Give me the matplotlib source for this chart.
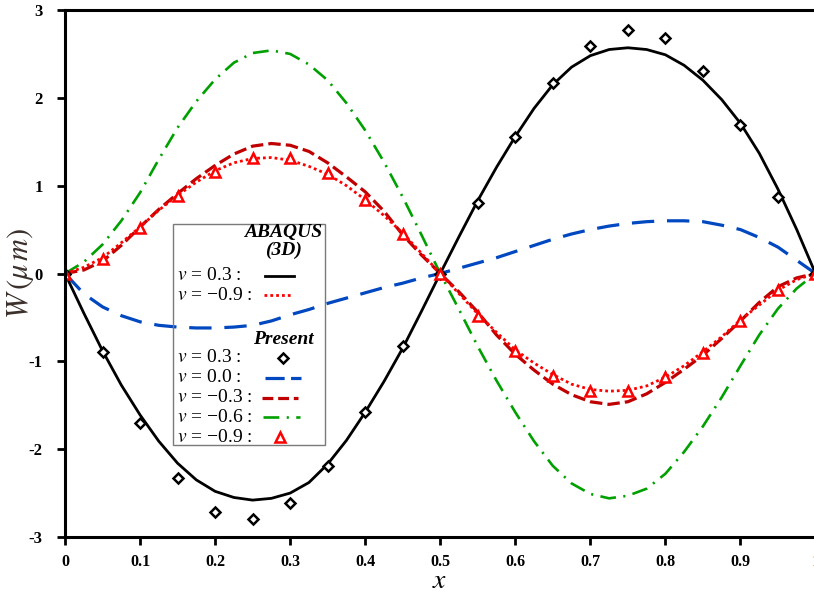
import matplotlib
matplotlib.use("Agg")
import matplotlib.pyplot as plt
from matplotlib.patches import Rectangle

plt.rcParams['font.family'] = ['Liberation Serif', 'DejaVu Serif']
plt.rcParams['mathtext.fontset'] = 'stix'

# abscissa of the line curves
x_line = [0.0, 0.025, 0.05, 0.075, 0.1, 0.125, 0.15, 0.175, 0.2, 0.225,
          0.25, 0.275, 0.3, 0.325, 0.35, 0.375, 0.4, 0.425, 0.45, 0.475,
          0.5, 0.525, 0.55, 0.575, 0.6, 0.625, 0.65, 0.675, 0.7, 0.725,
          0.75, 0.775, 0.8, 0.825, 0.85, 0.875, 0.9, 0.925, 0.95, 0.975, 1.0]

# ABAQUS (3D), v = 0.3
w_abaqus_03 = [0, -0.45, -0.88, -1.27, -1.61, -1.91, -2.16, -2.35, -2.48, -2.55,
               -2.58, -2.56, -2.50, -2.38, -2.17, -1.90, -1.58, -1.23, -0.85, -0.43,
               0, 0.42, 0.83, 1.21, 1.56, 1.88, 2.15, 2.35, 2.48, 2.55,
               2.57, 2.55, 2.49, 2.37, 2.20, 1.98, 1.71, 1.37, 0.96, 0.50, 0]
# ABAQUS (3D), v = -0.9
w_abaqus_m09 = [0, 0.07, 0.18, 0.35, 0.53, 0.72, 0.89, 1.04, 1.17, 1.26,
                1.31, 1.32, 1.29, 1.22, 1.13, 1.00, 0.84, 0.66, 0.46, 0.23,
                0, -0.23, -0.46, -0.67, -0.87, -1.02, -1.15, -1.26, -1.32, -1.34,
                -1.33, -1.28, -1.18, -1.05, -0.89, -0.72, -0.53, -0.36, -0.19, -0.07, 0]
# Present, v = 0.0
w_present_00 = [0, -0.23, -0.38, -0.48, -0.55, -0.59, -0.61, -0.62, -0.62, -0.61,
                -0.59, -0.54, -0.47, -0.41, -0.34, -0.28, -0.22, -0.16, -0.11, -0.05,
                0, 0.06, 0.12, 0.18, 0.25, 0.32, 0.39, 0.45, 0.50, 0.54,
                0.57, 0.59, 0.60, 0.60, 0.59, 0.55, 0.50, 0.41, 0.30, 0.15, 0]
# Present, v = -0.3
w_present_m03 = [0, 0.04, 0.14, 0.32, 0.53, 0.73, 0.91, 1.08, 1.23, 1.36,
                 1.45, 1.48, 1.46, 1.39, 1.26, 1.10, 0.93, 0.71, 0.44, 0.21,
                 0, -0.21, -0.44, -0.70, -0.92, -1.10, -1.26, -1.38, -1.46, -1.49,
                 -1.46, -1.37, -1.24, -1.09, -0.93, -0.74, -0.54, -0.33, -0.15, -0.05, 0]
# Present, v = -0.6
w_present_m06 = [0, 0.13, 0.33, 0.60, 0.92, 1.30, 1.66, 1.96, 2.21, 2.40,
                 2.51, 2.54, 2.50, 2.38, 2.20, 1.94, 1.63, 1.27, 0.87, 0.44,
                 0, -0.41, -0.83, -1.22, -1.58, -1.91, -2.19, -2.39, -2.51, -2.56,
                 -2.53, -2.45, -2.28, -2.03, -1.74, -1.41, -1.05, -0.70, -0.40, -0.17, 0]

# marker series (Present)
x_pts = [0.0, 0.05, 0.1, 0.15, 0.2, 0.25, 0.3, 0.35, 0.4, 0.45, 0.5,
         0.55, 0.6, 0.65, 0.7, 0.75, 0.8, 0.85, 0.9, 0.95, 1.0]
w_pts_03 = [0, -0.89, -1.70, -2.33, -2.71, -2.79, -2.61, -2.19, -1.58, -0.83, 0,
            0.80, 1.55, 2.17, 2.59, 2.77, 2.68, 2.31, 1.69, 0.87, 0]
w_pts_m09 = [0, 0.17, 0.52, 0.88, 1.16, 1.32, 1.31, 1.14, 0.84, 0.45, 0,
             -0.48, -0.88, -1.17, -1.34, -1.34, -1.18, -0.91, -0.54, -0.19, 0]

x_ticks = [0, 0.1, 0.2, 0.3, 0.4, 0.5, 0.6, 0.7, 0.8, 0.9, 1.0]
x_tick_labels = ['0', '0.1', '0.2', '0.3', '0.4', '0.5', '0.6', '0.7', '0.8', '0.9', '1']
y_ticks = [-3, -2, -1, 0, 1, 2, 3]
y_tick_labels = ['-3', '-2', '-1', '0', '1', '2', '3']

BLACK = '#000000'
BLUE = '#0048c0'
DARKRED = '#c00000'
RED = '#ff0000'
GREEN = '#00a000'

fig = plt.figure(figsize=(8.14, 5.95), dpi=100)
ax = fig.add_axes([65 / 814, 58 / 595, 750.5 / 814, 527 / 595])

ax.plot(x_line, w_present_00, color=BLUE, lw=2.3, dashes=(7, 4))
ax.plot(x_line, w_present_m06, color=GREEN, lw=1.9, dashes=(6, 2.8, 0.8, 2.8))
ax.plot(x_line, w_present_m03, color=DARKRED, lw=2.3, dashes=(3.9, 1.6))
ax.plot(x_line, w_abaqus_m09, color=RED, lw=2.0, dashes=(1, 1.1))
ax.plot(x_line, w_abaqus_03, color=BLACK, lw=2.0, solid_capstyle='butt')
ax.plot(x_pts, w_pts_03, ls='none', marker='D', ms=5.5, mfc='white', mec=BLACK, mew=1.8)
ax.plot(x_pts, w_pts_m09, ls='none', marker='^', ms=7.5, mfc='white', mec=RED, mew=1.8)

ax.set_xlim(0, 1)
ax.set_ylim(-3, 3)
ax.set_xticks(x_ticks)
ax.set_xticklabels(x_tick_labels, fontweight='bold', fontsize=11.5)
ax.set_yticks(y_ticks)
ax.set_yticklabels(y_tick_labels, fontweight='bold', fontsize=12)
ax.get_xticklabels()[-1].set_color('#c87533')
ax.tick_params(axis='x', direction='out', length=6, width=2, pad=6)
ax.tick_params(axis='y', direction='out', length=6, width=2, pad=10)
for sp in ax.spines.values():
    sp.set_linewidth(2.2)

# axis titles placed in figure pixels, as in the original
fig.text(440 / 814, 1 - 582 / 595, '$x$', fontsize=20, ha='center', va='center')
fig.text(20 / 814, 1 - 273 / 595, r'$W\,(\mu\, m)$', fontsize=22, color='#3a2f2a',
         rotation=90, ha='center', va='center')

# hand-built legend (transparent, as in the original figure)
def px(xp, yp):
    return ((xp - 65) / 750.5, (537 - yp) / 527)

x0, y0 = px(173, 445)
x1, y1 = px(325, 224)
ax.add_patch(Rectangle((x0, y0), x1 - x0, y1 - y0, transform=ax.transAxes,
                       fill=False, edgecolor='#7a7a7a', lw=1.0, zorder=5))

hx, _ = px(283, 0)
for label, yp in [('ABAQUS', 233), ('(3D)', 250), ('Present', 340)]:
    ax.text(hx, px(0, yp)[1], label, transform=ax.transAxes, ha='center', va='center',
            fontsize=14, fontweight='bold', fontstyle='italic', zorder=6)

rows = [
    (r'$v$ = 0.3 :', 276, dict(color=BLACK, lw=2.0), (265, 294), None),
    (r'$v$ = −0.9 :', 295, dict(color=RED, lw=2.0, dashes=(1, 1.1)), (264, 293), None),
    (r'$v$ = 0.3 :', 358, dict(ls='none', marker='D', ms=5.5, mfc='white', mec=BLACK, mew=1.8), None, 283),
    (r'$v$ = 0.0 :', 378, dict(color=BLUE, lw=2.3, dashes=(6, 2)), (265, 301), None),
    (r'$v$ = −0.3 :', 398, dict(color=DARKRED, lw=2.3, dashes=(3.4, 1.5)), (262, 298), None),
    (r'$v$ = −0.6 :', 417, dict(color=GREEN, lw=1.9, dashes=(6, 2.8, 0.8, 2.8)), (263, 300), None),
    (r'$v$ = −0.9 :', 437, dict(ls='none', marker='^', ms=7.5, mfc='white', mec=RED, mew=1.8), None, 280),
]
tx, _ = px(177, 0)
for label, yp, style, span, mx in rows:
    ya = px(0, yp)[1]
    ax.text(tx, ya, label, transform=ax.transAxes, ha='left', va='center',
            fontsize=14, zorder=6)
    if span is not None:
        xa, _ = px(span[0], 0)
        xb, _ = px(span[1], 0)
        ax.plot([xa, xb], [ya, ya], transform=ax.transAxes, clip_on=False, zorder=6, **style)
    else:
        xm, _ = px(mx, 0)
        ax.plot([xm], [ya], transform=ax.transAxes, clip_on=False, zorder=6, **style)

fig.savefig('out.png', dpi=100)
